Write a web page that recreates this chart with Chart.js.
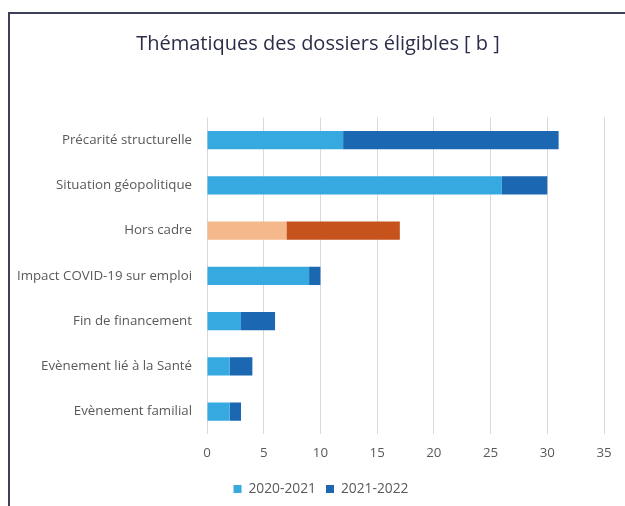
<!DOCTYPE html>
<html>
<head>
<meta charset="utf-8">
<script src="https://cdn.jsdelivr.net/npm/chart.js@4/dist/chart.umd.min.js"></script>
<style>
  html, body { margin: 0; padding: 0; background: #fff; }
  #wrap { position: relative; width: 625px; height: 506px; overflow: hidden; }
  #frame { position: absolute; left: 8px; top: 12px; width: 700px; height: 600px;
           border-top: 2px solid #3d405c; border-left: 2px solid #3d405c; }
  canvas { position: absolute; left: 0; top: 0; }
</style>
</head>
<body>
<div id="wrap">
  <div id="frame"></div>
  <canvas id="myChart" width="625" height="506"></canvas>
</div>
<script>
const categories = [
    'Précarité structurelle',
    'Situation géopolitique',
    'Hors cadre',
    'Impact COVID-19 sur emploi',
    'Fin de financement',
    'Evènement lié à la Santé',
    'Evènement familial'
];
const series2020 = [12, 26, 7, 9, 3, 2, 2];
const series2021 = [19, 4, 10, 1, 3, 2, 1];
const tickValues = [0, 5, 10, 15, 20, 25, 30, 35];

// "Hors cadre" is shown in orange in the original
const light = categories.map(c => c === 'Hors cadre' ? '#f5b88a' : '#36a9e1');
const dark = categories.map(c => c === 'Hors cadre' ? '#c5531b' : '#1b67b1');

const labelFont = { family: 'Open Sans', size: 13.3 };

// title and legend are a bit right of the canvas centre in the original
const nudge = {
    id: 'nudge',
    afterLayout(chart) {
        chart.titleBlock.left += 11;
        chart.titleBlock.right += 11;
        chart.legend.left += 14;
        chart.legend.right += 14;
    }
};

const showBar = function () {
    const ctx = document.getElementById('myChart');
    const chart = new Chart(ctx, {
        type: 'bar',
        data: {
            labels: categories,
            datasets: [{
                label: '2020-2021',
                data: series2020,
                backgroundColor: light,
                barPercentage: 0.4,
                categoryPercentage: 1
            }, {
                label: '2021-2022',
                data: series2021,
                backgroundColor: dark,
                barPercentage: 0.4,
                categoryPercentage: 1
            }]
        },
        options: {
            indexAxis: 'y',
            responsive: false,
            animation: false,
            layout: { padding: { left: 10, right: 21, top: 0, bottom: 0 } },
            plugins: {
                title: {
                    display: true,
                    text: 'Thématiques des dossiers éligibles [ b ]',
                    color: '#2b2e48',
                    font: { family: 'Open Sans', size: 20, weight: 'normal' },
                    padding: { top: 32, bottom: 61.5 }
                },
                legend: {
                    position: 'bottom',
                    labels: {
                        color: '#595959',
                        font: { family: 'Open Sans', size: 13.8 },
                        boxWidth: 8,
                        boxHeight: 8,
                        padding: 10
                    }
                },
                tooltip: { enabled: false }
            },
            scales: {
                x: {
                    stacked: true,
                    min: 0,
                    max: 35,
                    afterBuildTicks: axis => { axis.ticks = tickValues.map(v => ({ value: v })); },
                    grid: { color: '#d9d9d9', drawTicks: false },
                    border: { display: false },
                    ticks: {
                        color: '#595959',
                        font: labelFont,
                        padding: 11
                    }
                },
                y: {
                    stacked: true,
                    grid: { display: false },
                    border: { display: false },
                    ticks: {
                        color: '#595959',
                        font: labelFont,
                        padding: 7
                    },
                    afterFit: axis => { axis.width = 197; }
                }
            }
        },
        plugins: [nudge]
    });
}
showBar()
</script>
</body>
</html>
